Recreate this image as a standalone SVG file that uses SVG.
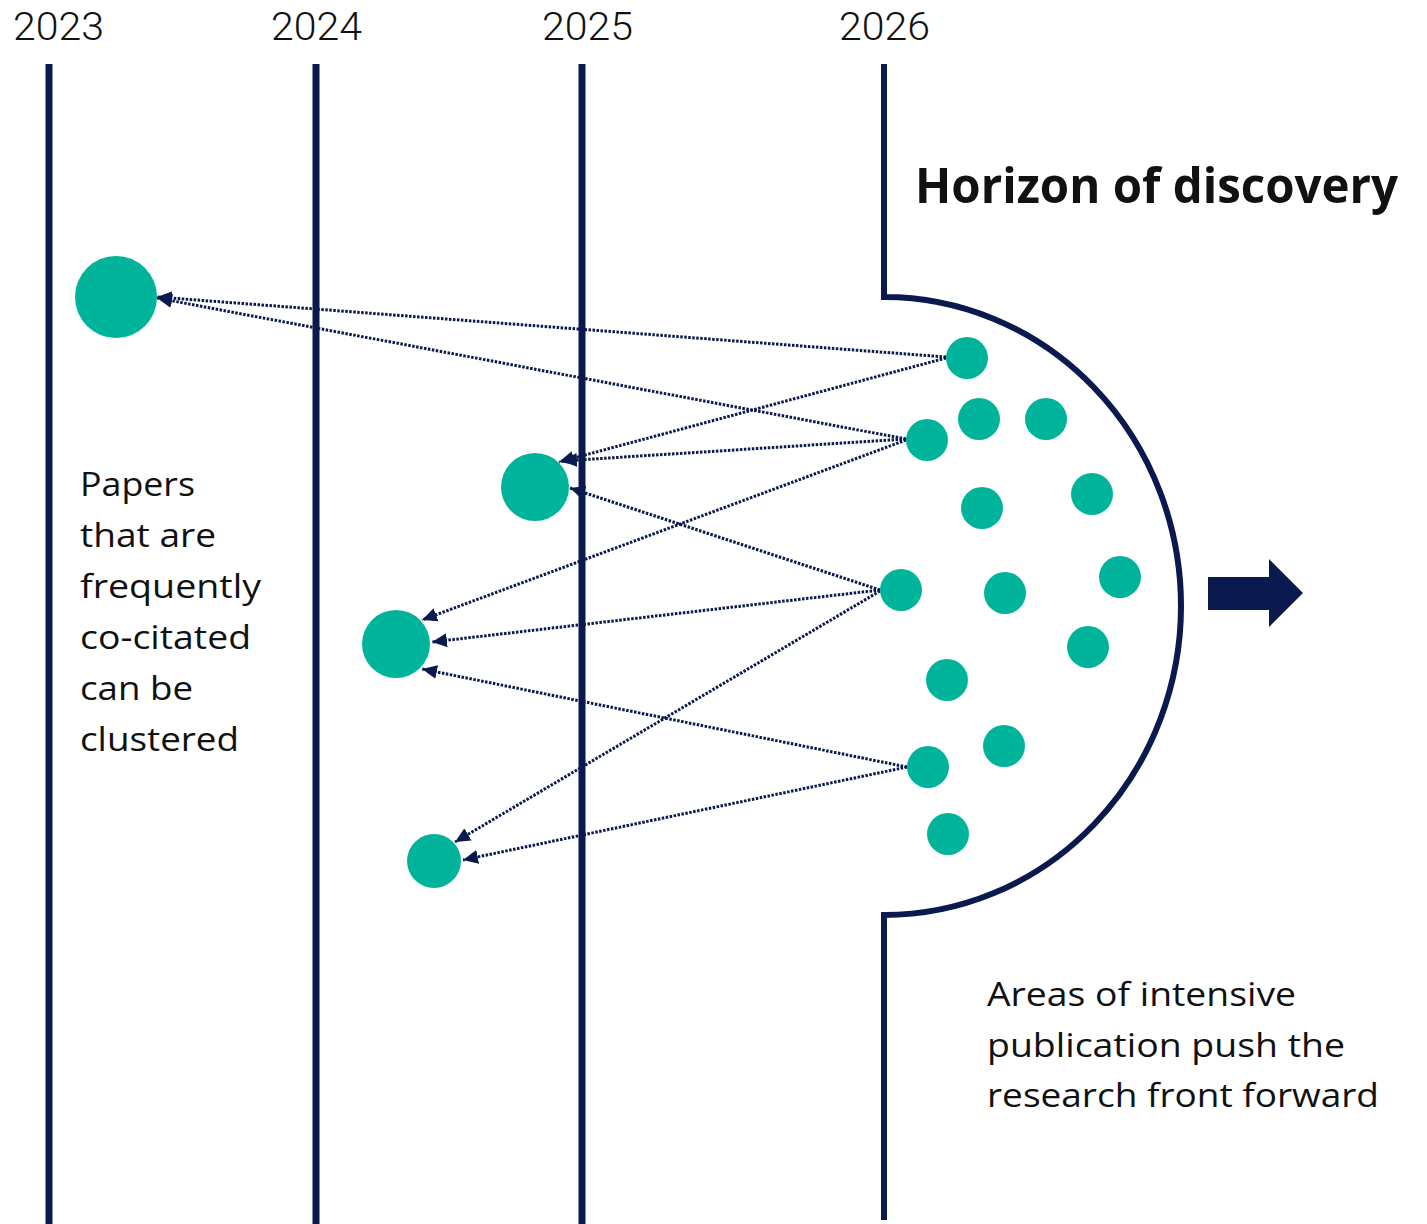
<svg xmlns="http://www.w3.org/2000/svg" width="1427" height="1224" viewBox="0 0 1427 1224">
<defs>
<style>
.yr{font-family:Roboto,"Liberation Sans",Arial,sans-serif;font-size:39px;font-weight:300;fill:#111;}
.lbl{font-family:"Open Sans","Noto Sans",sans-serif;font-size:32px;fill:#111;}
.ttl{font-family:"Open Sans","Noto Sans",sans-serif;font-size:49px;font-weight:700;fill:#111;}
.vl{stroke:#0b1a4e;stroke-width:7;fill:none;}
.hz{stroke:#0b1a4e;stroke-width:6;fill:none;}
.cn{stroke:#0b1a4e;stroke-width:3;stroke-dasharray:2.5 1.5;fill:none;marker-end:url(#ah);}
.pt{fill:#00b39b;}
</style>
<marker id="ah" markerUnits="userSpaceOnUse" markerWidth="16" markerHeight="16" viewBox="0 0 16 16" refX="15" refY="8" orient="auto">
<path d="M0,1 L15,8 L0,15 Z" fill="#0b1a4e"/>
</marker>
</defs>
<rect width="1427" height="1224" fill="#fff"/>

<g id="years">
<text class="yr" x="13" y="40" textLength="91" lengthAdjust="spacingAndGlyphs">2023</text>
<text class="yr" x="271" y="40" textLength="91" lengthAdjust="spacingAndGlyphs">2024</text>
<text class="yr" x="542" y="40" textLength="91" lengthAdjust="spacingAndGlyphs">2025</text>
<text class="yr" x="839" y="40" textLength="91" lengthAdjust="spacingAndGlyphs">2026</text>
</g>

<g id="connectors">
<path class="cn" d="M946,357 L157,297"/>
<path class="cn" d="M906,439 L157,298"/>
<path class="cn" d="M946,358 L559,462"/>
<path class="cn" d="M906,439 L562,461"/>
<path class="cn" d="M880,590 L570,488"/>
<path class="cn" d="M906,440 L422,620"/>
<path class="cn" d="M880,590 L432,642"/>
<path class="cn" d="M907,767 L422,669"/>
<path class="cn" d="M880,591 L455,842"/>
<path class="cn" d="M907,767 L463,860"/>
</g>

<g id="timeline">
<line class="vl" x1="49" y1="64" x2="49" y2="1224"/>
<line class="vl" x1="316" y1="64" x2="316" y2="1224"/>
<line class="vl" x1="582" y1="64" x2="582" y2="1224"/>
</g>

<g id="horizon">
<path class="hz" d="M884,64 L884,297 A297,309 0 0 1 884,915 L884,1220"/>
<text class="ttl" x="915" y="203" textLength="483" lengthAdjust="spacingAndGlyphs">Horizon of discovery</text>
</g>

<g id="cited-papers">
<circle class="pt" cx="116" cy="297" r="41"/>
<circle class="pt" cx="535" cy="487" r="34"/>
<circle class="pt" cx="396" cy="644" r="34"/>
<circle class="pt" cx="434" cy="861" r="27"/>
</g>

<g id="new-papers">
<circle class="pt" cx="967" cy="358" r="21"/>
<circle class="pt" cx="927" cy="440" r="21"/>
<circle class="pt" cx="979" cy="419" r="21"/>
<circle class="pt" cx="1046" cy="419" r="21"/>
<circle class="pt" cx="982" cy="508" r="21"/>
<circle class="pt" cx="1092" cy="494" r="21"/>
<circle class="pt" cx="901" cy="590" r="21"/>
<circle class="pt" cx="1005" cy="593" r="21"/>
<circle class="pt" cx="1120" cy="577" r="21"/>
<circle class="pt" cx="1088" cy="647" r="21"/>
<circle class="pt" cx="947" cy="680" r="21"/>
<circle class="pt" cx="1004" cy="746" r="21"/>
<circle class="pt" cx="928" cy="767" r="21"/>
<circle class="pt" cx="948" cy="834" r="21"/>
</g>

<g id="forward-arrow">
<path d="M1208,577 L1269,577 L1269,559 L1303,593 L1269,627 L1269,610 L1208,610 Z" fill="#0b1a4e"/>
</g>

<g id="cluster-label">
<text class="lbl" x="80" y="496" textLength="115" lengthAdjust="spacingAndGlyphs">Papers</text>
<text class="lbl" x="80" y="547" textLength="136" lengthAdjust="spacingAndGlyphs">that are</text>
<text class="lbl" x="80" y="598" textLength="181" lengthAdjust="spacingAndGlyphs">frequently</text>
<text class="lbl" x="80" y="649" textLength="171" lengthAdjust="spacingAndGlyphs">co-citated</text>
<text class="lbl" x="80" y="700" textLength="113" lengthAdjust="spacingAndGlyphs">can be</text>
<text class="lbl" x="80" y="751" textLength="159" lengthAdjust="spacingAndGlyphs">clustered</text>
</g>

<g id="front-label">
<text class="lbl" x="987" y="1006" textLength="309" lengthAdjust="spacingAndGlyphs">Areas of intensive</text>
<text class="lbl" x="987" y="1057" textLength="358" lengthAdjust="spacingAndGlyphs">publication push the</text>
<text class="lbl" x="987" y="1107" textLength="392" lengthAdjust="spacingAndGlyphs">research front forward</text>
</g>
</svg>
